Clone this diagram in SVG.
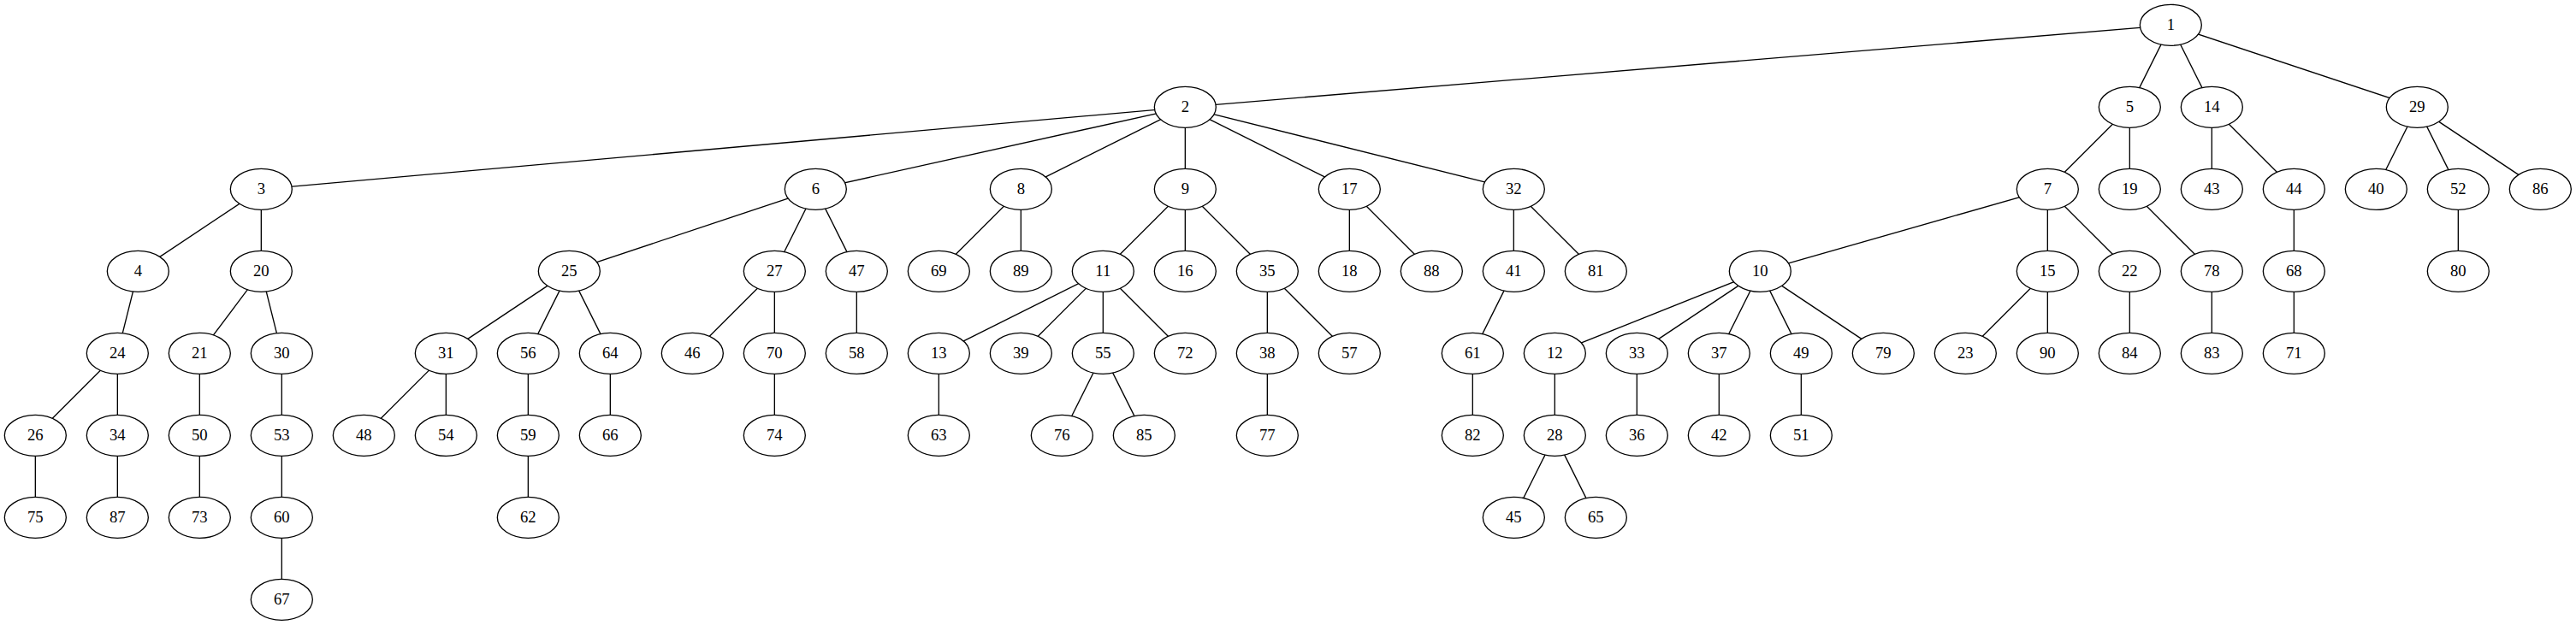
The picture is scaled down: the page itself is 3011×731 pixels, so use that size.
<svg xmlns="http://www.w3.org/2000/svg" width="3011" height="731" viewBox="0 0 3011 731">
<style>
.edges path{stroke:#000;stroke-width:1.33;fill:none}
.node ellipse{fill:#fff;stroke:#000;stroke-width:1.33}
.node text{font-family:"Liberation Serif","Times New Roman",serif;font-size:18.67px;text-anchor:middle;fill:#000}
</style>
<rect width="3011" height="731" fill="#fff"/>
<g id="edges" class="edges">
<path d="M2537.33 29.33L1385.33 125.33"/>
<path d="M2537.33 29.33L2489.33 125.33"/>
<path d="M2537.33 29.33L2585.33 125.33"/>
<path d="M2537.33 29.33L2825.33 125.33"/>
<path d="M1385.33 125.33L305.33 221.33"/>
<path d="M1385.33 125.33L953.33 221.33"/>
<path d="M1385.33 125.33L1193.33 221.33"/>
<path d="M1385.33 125.33L1385.33 221.33"/>
<path d="M1385.33 125.33L1577.33 221.33"/>
<path d="M1385.33 125.33L1769.33 221.33"/>
<path d="M305.33 221.33L161.33 317.33"/>
<path d="M305.33 221.33L305.33 317.33"/>
<path d="M161.33 317.33L137.33 413.33"/>
<path d="M137.33 413.33L41.33 509.33"/>
<path d="M137.33 413.33L137.33 509.33"/>
<path d="M41.33 509.33L41.33 605.33"/>
<path d="M137.33 509.33L137.33 605.33"/>
<path d="M305.33 317.33L233.33 413.33"/>
<path d="M305.33 317.33L329.33 413.33"/>
<path d="M233.33 413.33L233.33 509.33"/>
<path d="M233.33 509.33L233.33 605.33"/>
<path d="M329.33 413.33L329.33 509.33"/>
<path d="M329.33 509.33L329.33 605.33"/>
<path d="M329.33 605.33L329.33 701.33"/>
<path d="M953.33 221.33L665.33 317.33"/>
<path d="M953.33 221.33L905.33 317.33"/>
<path d="M953.33 221.33L1001.33 317.33"/>
<path d="M665.33 317.33L521.33 413.33"/>
<path d="M665.33 317.33L617.33 413.33"/>
<path d="M665.33 317.33L713.33 413.33"/>
<path d="M521.33 413.33L425.33 509.33"/>
<path d="M521.33 413.33L521.33 509.33"/>
<path d="M617.33 413.33L617.33 509.33"/>
<path d="M617.33 509.33L617.33 605.33"/>
<path d="M713.33 413.33L713.33 509.33"/>
<path d="M905.33 317.33L809.33 413.33"/>
<path d="M905.33 317.33L905.33 413.33"/>
<path d="M905.33 413.33L905.33 509.33"/>
<path d="M1001.33 317.33L1001.33 413.33"/>
<path d="M1193.33 221.33L1097.33 317.33"/>
<path d="M1193.33 221.33L1193.33 317.33"/>
<path d="M1385.33 221.33L1289.33 317.33"/>
<path d="M1385.33 221.33L1385.33 317.33"/>
<path d="M1385.33 221.33L1481.33 317.33"/>
<path d="M1289.33 317.33L1097.33 413.33"/>
<path d="M1289.33 317.33L1193.33 413.33"/>
<path d="M1289.33 317.33L1289.33 413.33"/>
<path d="M1289.33 317.33L1385.33 413.33"/>
<path d="M1097.33 413.33L1097.33 509.33"/>
<path d="M1289.33 413.33L1241.33 509.33"/>
<path d="M1289.33 413.33L1337.33 509.33"/>
<path d="M1481.33 317.33L1481.33 413.33"/>
<path d="M1481.33 317.33L1577.33 413.33"/>
<path d="M1481.33 413.33L1481.33 509.33"/>
<path d="M1577.33 221.33L1577.33 317.33"/>
<path d="M1577.33 221.33L1673.33 317.33"/>
<path d="M1769.33 221.33L1769.33 317.33"/>
<path d="M1769.33 221.33L1865.33 317.33"/>
<path d="M1769.33 317.33L1721.33 413.33"/>
<path d="M1721.33 413.33L1721.33 509.33"/>
<path d="M2489.33 125.33L2393.33 221.33"/>
<path d="M2489.33 125.33L2489.33 221.33"/>
<path d="M2393.33 221.33L2057.33 317.33"/>
<path d="M2393.33 221.33L2393.33 317.33"/>
<path d="M2393.33 221.33L2489.33 317.33"/>
<path d="M2057.33 317.33L1817.33 413.33"/>
<path d="M2057.33 317.33L1913.33 413.33"/>
<path d="M2057.33 317.33L2009.33 413.33"/>
<path d="M2057.33 317.33L2105.33 413.33"/>
<path d="M2057.33 317.33L2201.33 413.33"/>
<path d="M1817.33 413.33L1817.33 509.33"/>
<path d="M1817.33 509.33L1769.33 605.33"/>
<path d="M1817.33 509.33L1865.33 605.33"/>
<path d="M1913.33 413.33L1913.33 509.33"/>
<path d="M2009.33 413.33L2009.33 509.33"/>
<path d="M2105.33 413.33L2105.33 509.33"/>
<path d="M2393.33 317.33L2297.33 413.33"/>
<path d="M2393.33 317.33L2393.33 413.33"/>
<path d="M2489.33 317.33L2489.33 413.33"/>
<path d="M2489.33 221.33L2585.33 317.33"/>
<path d="M2585.33 317.33L2585.33 413.33"/>
<path d="M2585.33 125.33L2585.33 221.33"/>
<path d="M2585.33 125.33L2681.33 221.33"/>
<path d="M2681.33 221.33L2681.33 317.33"/>
<path d="M2681.33 317.33L2681.33 413.33"/>
<path d="M2825.33 125.33L2777.33 221.33"/>
<path d="M2825.33 125.33L2873.33 221.33"/>
<path d="M2825.33 125.33L2969.33 221.33"/>
<path d="M2873.33 221.33L2873.33 317.33"/>
</g>
<g id="n1" class="node" transform="translate(2537.33,29.33)"><ellipse rx="36" ry="24"/><text y="6">1</text></g>
<g id="n2" class="node" transform="translate(1385.33,125.33)"><ellipse rx="36" ry="24"/><text y="6">2</text></g>
<g id="n5" class="node" transform="translate(2489.33,125.33)"><ellipse rx="36" ry="24"/><text y="6">5</text></g>
<g id="n14" class="node" transform="translate(2585.33,125.33)"><ellipse rx="36" ry="24"/><text y="6">14</text></g>
<g id="n29" class="node" transform="translate(2825.33,125.33)"><ellipse rx="36" ry="24"/><text y="6">29</text></g>
<g id="n3" class="node" transform="translate(305.33,221.33)"><ellipse rx="36" ry="24"/><text y="6">3</text></g>
<g id="n6" class="node" transform="translate(953.33,221.33)"><ellipse rx="36" ry="24"/><text y="6">6</text></g>
<g id="n8" class="node" transform="translate(1193.33,221.33)"><ellipse rx="36" ry="24"/><text y="6">8</text></g>
<g id="n9" class="node" transform="translate(1385.33,221.33)"><ellipse rx="36" ry="24"/><text y="6">9</text></g>
<g id="n17" class="node" transform="translate(1577.33,221.33)"><ellipse rx="36" ry="24"/><text y="6">17</text></g>
<g id="n32" class="node" transform="translate(1769.33,221.33)"><ellipse rx="36" ry="24"/><text y="6">32</text></g>
<g id="n7" class="node" transform="translate(2393.33,221.33)"><ellipse rx="36" ry="24"/><text y="6">7</text></g>
<g id="n19" class="node" transform="translate(2489.33,221.33)"><ellipse rx="36" ry="24"/><text y="6">19</text></g>
<g id="n43" class="node" transform="translate(2585.33,221.33)"><ellipse rx="36" ry="24"/><text y="6">43</text></g>
<g id="n44" class="node" transform="translate(2681.33,221.33)"><ellipse rx="36" ry="24"/><text y="6">44</text></g>
<g id="n40" class="node" transform="translate(2777.33,221.33)"><ellipse rx="36" ry="24"/><text y="6">40</text></g>
<g id="n52" class="node" transform="translate(2873.33,221.33)"><ellipse rx="36" ry="24"/><text y="6">52</text></g>
<g id="n86" class="node" transform="translate(2969.33,221.33)"><ellipse rx="36" ry="24"/><text y="6">86</text></g>
<g id="n4" class="node" transform="translate(161.33,317.33)"><ellipse rx="36" ry="24"/><text y="6">4</text></g>
<g id="n20" class="node" transform="translate(305.33,317.33)"><ellipse rx="36" ry="24"/><text y="6">20</text></g>
<g id="n25" class="node" transform="translate(665.33,317.33)"><ellipse rx="36" ry="24"/><text y="6">25</text></g>
<g id="n27" class="node" transform="translate(905.33,317.33)"><ellipse rx="36" ry="24"/><text y="6">27</text></g>
<g id="n47" class="node" transform="translate(1001.33,317.33)"><ellipse rx="36" ry="24"/><text y="6">47</text></g>
<g id="n69" class="node" transform="translate(1097.33,317.33)"><ellipse rx="36" ry="24"/><text y="6">69</text></g>
<g id="n89" class="node" transform="translate(1193.33,317.33)"><ellipse rx="36" ry="24"/><text y="6">89</text></g>
<g id="n11" class="node" transform="translate(1289.33,317.33)"><ellipse rx="36" ry="24"/><text y="6">11</text></g>
<g id="n16" class="node" transform="translate(1385.33,317.33)"><ellipse rx="36" ry="24"/><text y="6">16</text></g>
<g id="n35" class="node" transform="translate(1481.33,317.33)"><ellipse rx="36" ry="24"/><text y="6">35</text></g>
<g id="n18" class="node" transform="translate(1577.33,317.33)"><ellipse rx="36" ry="24"/><text y="6">18</text></g>
<g id="n88" class="node" transform="translate(1673.33,317.33)"><ellipse rx="36" ry="24"/><text y="6">88</text></g>
<g id="n41" class="node" transform="translate(1769.33,317.33)"><ellipse rx="36" ry="24"/><text y="6">41</text></g>
<g id="n81" class="node" transform="translate(1865.33,317.33)"><ellipse rx="36" ry="24"/><text y="6">81</text></g>
<g id="n10" class="node" transform="translate(2057.33,317.33)"><ellipse rx="36" ry="24"/><text y="6">10</text></g>
<g id="n15" class="node" transform="translate(2393.33,317.33)"><ellipse rx="36" ry="24"/><text y="6">15</text></g>
<g id="n22" class="node" transform="translate(2489.33,317.33)"><ellipse rx="36" ry="24"/><text y="6">22</text></g>
<g id="n78" class="node" transform="translate(2585.33,317.33)"><ellipse rx="36" ry="24"/><text y="6">78</text></g>
<g id="n68" class="node" transform="translate(2681.33,317.33)"><ellipse rx="36" ry="24"/><text y="6">68</text></g>
<g id="n80" class="node" transform="translate(2873.33,317.33)"><ellipse rx="36" ry="24"/><text y="6">80</text></g>
<g id="n24" class="node" transform="translate(137.33,413.33)"><ellipse rx="36" ry="24"/><text y="6">24</text></g>
<g id="n21" class="node" transform="translate(233.33,413.33)"><ellipse rx="36" ry="24"/><text y="6">21</text></g>
<g id="n30" class="node" transform="translate(329.33,413.33)"><ellipse rx="36" ry="24"/><text y="6">30</text></g>
<g id="n31" class="node" transform="translate(521.33,413.33)"><ellipse rx="36" ry="24"/><text y="6">31</text></g>
<g id="n56" class="node" transform="translate(617.33,413.33)"><ellipse rx="36" ry="24"/><text y="6">56</text></g>
<g id="n64" class="node" transform="translate(713.33,413.33)"><ellipse rx="36" ry="24"/><text y="6">64</text></g>
<g id="n46" class="node" transform="translate(809.33,413.33)"><ellipse rx="36" ry="24"/><text y="6">46</text></g>
<g id="n70" class="node" transform="translate(905.33,413.33)"><ellipse rx="36" ry="24"/><text y="6">70</text></g>
<g id="n58" class="node" transform="translate(1001.33,413.33)"><ellipse rx="36" ry="24"/><text y="6">58</text></g>
<g id="n13" class="node" transform="translate(1097.33,413.33)"><ellipse rx="36" ry="24"/><text y="6">13</text></g>
<g id="n39" class="node" transform="translate(1193.33,413.33)"><ellipse rx="36" ry="24"/><text y="6">39</text></g>
<g id="n55" class="node" transform="translate(1289.33,413.33)"><ellipse rx="36" ry="24"/><text y="6">55</text></g>
<g id="n72" class="node" transform="translate(1385.33,413.33)"><ellipse rx="36" ry="24"/><text y="6">72</text></g>
<g id="n38" class="node" transform="translate(1481.33,413.33)"><ellipse rx="36" ry="24"/><text y="6">38</text></g>
<g id="n57" class="node" transform="translate(1577.33,413.33)"><ellipse rx="36" ry="24"/><text y="6">57</text></g>
<g id="n61" class="node" transform="translate(1721.33,413.33)"><ellipse rx="36" ry="24"/><text y="6">61</text></g>
<g id="n12" class="node" transform="translate(1817.33,413.33)"><ellipse rx="36" ry="24"/><text y="6">12</text></g>
<g id="n33" class="node" transform="translate(1913.33,413.33)"><ellipse rx="36" ry="24"/><text y="6">33</text></g>
<g id="n37" class="node" transform="translate(2009.33,413.33)"><ellipse rx="36" ry="24"/><text y="6">37</text></g>
<g id="n49" class="node" transform="translate(2105.33,413.33)"><ellipse rx="36" ry="24"/><text y="6">49</text></g>
<g id="n79" class="node" transform="translate(2201.33,413.33)"><ellipse rx="36" ry="24"/><text y="6">79</text></g>
<g id="n23" class="node" transform="translate(2297.33,413.33)"><ellipse rx="36" ry="24"/><text y="6">23</text></g>
<g id="n90" class="node" transform="translate(2393.33,413.33)"><ellipse rx="36" ry="24"/><text y="6">90</text></g>
<g id="n84" class="node" transform="translate(2489.33,413.33)"><ellipse rx="36" ry="24"/><text y="6">84</text></g>
<g id="n83" class="node" transform="translate(2585.33,413.33)"><ellipse rx="36" ry="24"/><text y="6">83</text></g>
<g id="n71" class="node" transform="translate(2681.33,413.33)"><ellipse rx="36" ry="24"/><text y="6">71</text></g>
<g id="n26" class="node" transform="translate(41.33,509.33)"><ellipse rx="36" ry="24"/><text y="6">26</text></g>
<g id="n34" class="node" transform="translate(137.33,509.33)"><ellipse rx="36" ry="24"/><text y="6">34</text></g>
<g id="n50" class="node" transform="translate(233.33,509.33)"><ellipse rx="36" ry="24"/><text y="6">50</text></g>
<g id="n53" class="node" transform="translate(329.33,509.33)"><ellipse rx="36" ry="24"/><text y="6">53</text></g>
<g id="n48" class="node" transform="translate(425.33,509.33)"><ellipse rx="36" ry="24"/><text y="6">48</text></g>
<g id="n54" class="node" transform="translate(521.33,509.33)"><ellipse rx="36" ry="24"/><text y="6">54</text></g>
<g id="n59" class="node" transform="translate(617.33,509.33)"><ellipse rx="36" ry="24"/><text y="6">59</text></g>
<g id="n66" class="node" transform="translate(713.33,509.33)"><ellipse rx="36" ry="24"/><text y="6">66</text></g>
<g id="n74" class="node" transform="translate(905.33,509.33)"><ellipse rx="36" ry="24"/><text y="6">74</text></g>
<g id="n63" class="node" transform="translate(1097.33,509.33)"><ellipse rx="36" ry="24"/><text y="6">63</text></g>
<g id="n76" class="node" transform="translate(1241.33,509.33)"><ellipse rx="36" ry="24"/><text y="6">76</text></g>
<g id="n85" class="node" transform="translate(1337.33,509.33)"><ellipse rx="36" ry="24"/><text y="6">85</text></g>
<g id="n77" class="node" transform="translate(1481.33,509.33)"><ellipse rx="36" ry="24"/><text y="6">77</text></g>
<g id="n82" class="node" transform="translate(1721.33,509.33)"><ellipse rx="36" ry="24"/><text y="6">82</text></g>
<g id="n28" class="node" transform="translate(1817.33,509.33)"><ellipse rx="36" ry="24"/><text y="6">28</text></g>
<g id="n36" class="node" transform="translate(1913.33,509.33)"><ellipse rx="36" ry="24"/><text y="6">36</text></g>
<g id="n42" class="node" transform="translate(2009.33,509.33)"><ellipse rx="36" ry="24"/><text y="6">42</text></g>
<g id="n51" class="node" transform="translate(2105.33,509.33)"><ellipse rx="36" ry="24"/><text y="6">51</text></g>
<g id="n75" class="node" transform="translate(41.33,605.33)"><ellipse rx="36" ry="24"/><text y="6">75</text></g>
<g id="n87" class="node" transform="translate(137.33,605.33)"><ellipse rx="36" ry="24"/><text y="6">87</text></g>
<g id="n73" class="node" transform="translate(233.33,605.33)"><ellipse rx="36" ry="24"/><text y="6">73</text></g>
<g id="n60" class="node" transform="translate(329.33,605.33)"><ellipse rx="36" ry="24"/><text y="6">60</text></g>
<g id="n62" class="node" transform="translate(617.33,605.33)"><ellipse rx="36" ry="24"/><text y="6">62</text></g>
<g id="n45" class="node" transform="translate(1769.33,605.33)"><ellipse rx="36" ry="24"/><text y="6">45</text></g>
<g id="n65" class="node" transform="translate(1865.33,605.33)"><ellipse rx="36" ry="24"/><text y="6">65</text></g>
<g id="n67" class="node" transform="translate(329.33,701.33)"><ellipse rx="36" ry="24"/><text y="6">67</text></g>
</svg>
